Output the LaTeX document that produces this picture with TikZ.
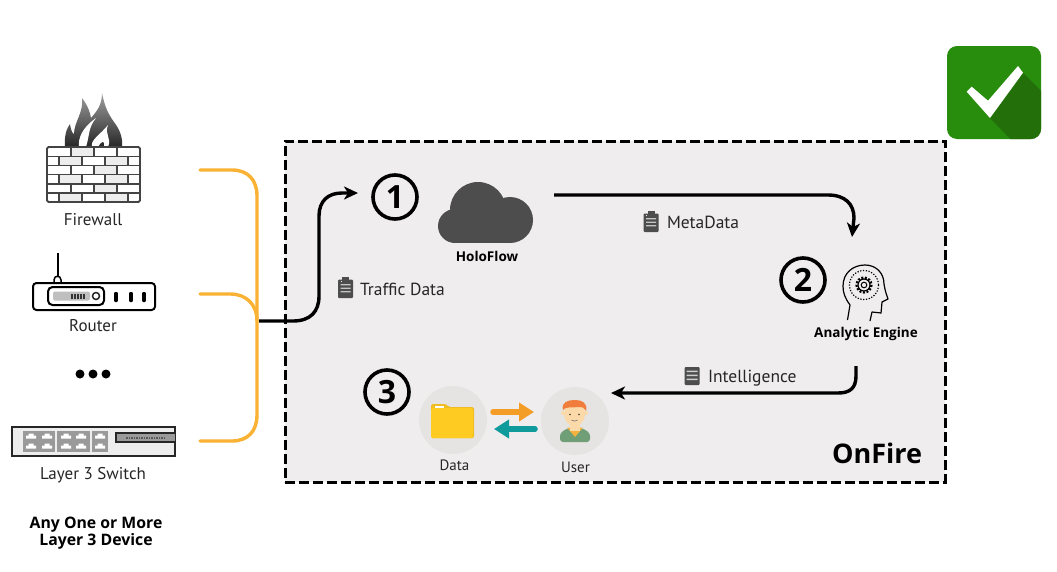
\documentclass[tikz,border=0pt]{standalone}
\usepackage{fontspec}
\setmainfont{PT Sans}
\newfontfamily\heavy{Open Sans}
\usetikzlibrary{arrows.meta,shadings}
\definecolor{boxbg}{HTML}{EFEDEE}
\definecolor{bracket}{HTML}{F9B233}
\definecolor{ink}{HTML}{262626}
\definecolor{icon}{HTML}{4D4D4D}
\definecolor{disc}{HTML}{E5E4E2}
\definecolor{okgreen}{HTML}{288D0C}
\definecolor{okdark}{HTML}{23700B}
\definecolor{brick}{HTML}{EDEDED}
\definecolor{wall}{HTML}{444444}
\definecolor{portgrey}{HTML}{9A9A9A}
\definecolor{folder}{HTML}{FDCB22}
\definecolor{folderback}{HTML}{EFBC24}
\definecolor{orangearrow}{HTML}{F39C26}
\definecolor{tealarrow}{HTML}{0F9A9C}
\definecolor{hair}{HTML}{F07D3C}
\definecolor{skin}{HTML}{FBD9A8}
\definecolor{shirt}{HTML}{6F9E77}
\definecolor{collar}{HTML}{F3B33D}
\tikzset{
  x=1pt,y=-1pt,
  every node/.style={outer sep=0pt},
  orangeline/.style={draw=bracket,line width=3.4pt,line cap=round},
  flowline/.style={draw=black,line width=3.4pt,-{Stealth[length=14pt,width=13pt,inset=4pt]}},
  devlabel/.style={font=\fontsize{17}{20}\selectfont,text=ink,inner sep=0pt},
  boldlabel/.style={font=\heavy\fontsize{13.5}{16}\selectfont\bfseries,text=black,inner sep=0pt},
  smalllabel/.style={font=\fontsize{15}{16}\selectfont,text=ink,inner sep=0pt},
  flowlabel/.style={font=\fontsize{17.5}{20}\selectfont,text=ink,inner sep=0pt,anchor=west},
  stepnum/.style={circle,draw=black,line width=3.6pt,minimum size=44pt,inner sep=0pt,font=\heavy\fontsize{32}{32}\selectfont\bfseries,text=black},
  discnode/.style={circle,fill=disc,minimum size=68pt,inner sep=0pt},
  clipicon/.pic={
    \fill[icon,rounded corners=1pt] (-7.5,-8.5) rectangle (7.5,10);
    \fill[icon] (-3.5,-11) rectangle (3.5,-7);
    \fill[boxbg!75!icon] (-5,-4) rectangle (5,-2.7) (-5,-0.5) rectangle (5,0.8) (-5,3) rectangle (5,4.3);
    \fill[boxbg] (-5,-6.8) rectangle (-4,-6);
  },
  docicon/.pic={
    \fill[icon,rounded corners=1pt] (-7.5,-9) rectangle (7.5,9);
    \fill[boxbg!80!icon] (-5.5,-5.5) rectangle (5.5,-4) (-5.5,-1.5) rectangle (5.5,0) (-5.5,2.5) rectangle (5.5,4);
  }
}
\begin{document}
\begin{tikzpicture}
\useasboundingbox (0,0) rectangle (1057,571);
% OnFire box
\node[draw=black,fill=boxbg,line width=3pt,dash pattern=on 10pt off 4pt,minimum width=660pt,minimum height=341pt,inner sep=0pt,anchor=north west] (onfire) at (285,141) {};
% Green badge
\node[fill=okgreen,rounded corners=10pt,minimum width=94pt,minimum height=93pt,inner sep=0pt,anchor=north west] (badge) at (947,46) {};
\begin{scope}
  \clip[rounded corners=10pt] (947,46) rectangle (1041,139);
  \fill[okdark] (1023,73) -- (1045,95) -- (1045,145) -- (1016,145) -- (990,118) -- cycle;
\end{scope}
\fill[white] (966.7,91.7) -- (971.7,86.7) -- (988,100.7) -- (1018,66) -- (1023,72.7) -- (990,118) -- cycle;
% Firewall
\shade[top color=gray!75,bottom color=black!85] (65,147) .. controls (64,135) and (67,128) .. (70,124)
  .. controls (71,130) and (72,133) .. (74,134) .. controls (74,122) and (84,112) .. (82,98)
  .. controls (88,106) and (90,112) .. (91,118) .. controls (98,110) and (102,104) .. (102,93)
  .. controls (105,108) and (109,115) .. (114,122) .. controls (120,130) and (123,138) .. (122,147) -- cycle;
\fill[white] (79,147) .. controls (78,138) and (82,128) .. (96,118) .. controls (88,128) and (90,134) .. (86,147) -- cycle;
\fill[white] (92,147) .. controls (90,140) and (100,135) .. (108,125) .. controls (104,134) and (112,138) .. (108,147) -- (104,147) .. controls (105,140) and (102,140) .. (98,147) -- cycle;
\node[draw=wall,fill=white,line width=1.6pt,rounded corners=1.5pt,minimum width=93pt,minimum height=55pt,inner sep=0pt,anchor=north west] (fwall) at (47,147) {};
\foreach \r/\a/\b in {0/71/94,2/94/117,4/94/117}{
  \fill[brick] (\a,147.5+\r*9.2) rectangle (\b,147.5+\r*9.2+9.2);
}
\foreach \r/\a/\b/\c/\d in {1/59/82/105/128,3/59/82/105/128,5/59/82/105/128}{
  \fill[brick] (\a,147.5+\r*9.2) rectangle (\b,147.5+\r*9.2+9.2);
  \fill[brick] (\c,147.5+\r*9.2) rectangle (\d,147.5+\r*9.2+9.2);
}
\foreach \r in {1,...,5}{\draw[wall,line width=1.4pt] (47,147+\r*9.2) -- (140,147+\r*9.2);}
\foreach \r in {0,2,4}{\foreach \xx in {71,94,117}{\draw[wall,line width=1.4pt] (\xx,147+\r*9.2) -- (\xx,147+\r*9.2+9.2);}}
\foreach \r in {1,3,5}{\foreach \xx in {59,82,105,128}{\draw[wall,line width=1.4pt] (\xx,147+\r*9.2) -- (\xx,147+\r*9.2+9.2);}}
\draw[wall,line width=1.6pt,rounded corners=1.5pt] (47,147) rectangle (140,202);
\node[devlabel] (fwlabel) at (93,219.5) {Firewall};
% Router
\draw[black,line width=2pt] (57.5,253) -- (57.5,278);
\draw[black,line width=1.5pt,fill=white] (54,288) -- (54,280) .. controls (54,275) and (61,275) .. (61,280) -- (61,288);
\node[draw=black,fill=white,line width=2pt,rounded corners=3.5pt,minimum width=122pt,minimum height=27pt,inner sep=0pt,anchor=north west] (router) at (33,283) {};
\node[draw=black,fill=white,line width=2pt,rounded corners=4.5pt,minimum width=56pt,minimum height=18pt,inner sep=0pt,anchor=north west] (rpanel) at (48,287) {};
\fill[black!25,rounded corners=2pt] (53,291.5) rectangle (90,300.5);
\foreach \xx in {72,75,78,81,84}{\fill[black!80] (\xx-0.8,294) rectangle (\xx+0.8,298.5);}
\draw[black!85,line width=1.5pt,fill=white] (96,296) circle[radius=3.5];
\foreach \xx in {116,131,144}{\fill[black,rounded corners=1pt] (\xx-1.9,292) rectangle (\xx+1.9,302);}
\node[devlabel] (rtlabel) at (93,325.5) {Router};
% Dots
\foreach \xx/\n in {80/d1,93/d2,106/d3}{\node[circle,fill=black,minimum size=9pt,inner sep=0pt] (\n) at (\xx,374) {};}
% Switch
\node[draw=ink,fill=brick,line width=1.4pt,minimum width=163pt,minimum height=29pt,inner sep=0pt,anchor=north west] (switch) at (12,427) {};
\foreach \a/\b in {23/55,57/90,92/108}{\fill[portgrey] (\a,431) rectangle (\b,452);}
\foreach \xx in {31,47,66,81,100}{\foreach \yy in {436,446}{
  \fill[white] (\xx-5,\yy+2.5) -- (\xx-5,\yy-0.5) -- (\xx-2.5,\yy-0.5) -- (\xx-2.5,\yy-2.5) -- (\xx+2.5,\yy-2.5) -- (\xx+2.5,\yy-0.5) -- (\xx+5,\yy-0.5) -- (\xx+5,\yy+2.5) -- cycle;}}
\fill[portgrey] (116,433) rectangle (175,442);
\draw[ink,line width=1.4pt] (175,433) -- (116,433) -- (116,442) -- (175,442);
\foreach \xx in {126,128.5,...,164}{\fill[black!65] (\xx,436.5) rectangle (\xx+1.5,438.5);}
\node[devlabel] (swlabel) at (93,475) {Layer 3 Switch};
\node[font=\heavy\fontsize{15.8}{17.5}\selectfont\bfseries,text=black,inner sep=0pt,align=center] (anyone) at (96,533) {Any One or More\\ Layer 3 Device};
% Bracket
\coordinate (bt) at (200,170);
\coordinate (bm) at (200,294);
\coordinate (bb) at (200,441);
\coordinate (bj) at (257,321);
\draw[orangeline] (bt) -- (232,170) .. controls (248,170) and (257,180) .. (257,196) -- (257,415) .. controls (257,431) and (248,441) .. (232,441) -- (bb);
\draw[orangeline] (bm) -- (230,294) .. controls (246,294) and (257,304) .. (bj);
% Flow arrows
\coordinate (a1s) at (259,321);
\coordinate (a1e) at (358,193);
\coordinate (a2s) at (554,195);
\coordinate (a2e) at (852,237);
\coordinate (a3s) at (856,366);
\coordinate (a3e) at (611,393);
\draw[flowline] (a1s) -- (293,321) .. controls (310,321) and (319,312) .. (319,296) -- (319,216) .. controls (319,201) and (328,193) .. (342,193) -- (a1e);
\draw[flowline] (a2s) -- (828,195) .. controls (845,195) and (854,204) .. (854,218) -- (a2e);
\draw[flowline] (a3s) -- (856,376) .. controls (856,388) and (850,393) .. (838,393) -- (a3e);
% Step numbers
\node[stepnum] (n1) at (395,197) {1};
\node[stepnum] (n2) at (803,280) {2};
\node[stepnum] (n3) at (387,392) {3};
% Cloud
\fill[icon] (455,226) circle[radius=17];
\fill[icon] (478,210) circle[radius=28];
\fill[icon] (510,220) circle[radius=23];
\fill[icon] (455,215) rectangle (510,243);
\node[boldlabel] (holo) at (487,256) {HoloFlow};
% Flow labels
\pic at (345.5,288) {clipicon};
\node[flowlabel] (traffic) at (360,289) {Traffic Data};
\pic at (651,222) {clipicon};
\node[flowlabel] (meta) at (667,222.5) {MetaData};
\pic at (692,376) {docicon};
\node[flowlabel] (intel) at (708,378) {Intelligence};
% Head
\draw[black,line width=1.2pt,line join=round] (847.5,320) -- (850,305) .. controls (845,298) and (843,293) .. (843,286) .. controls (843,273) and (853,265) .. (865,265) .. controls (876,265) and (884,273) .. (884,284) .. controls (885,291) and (887,296) .. (888,299) -- (882,302) -- (881,313) -- (872,312) -- (870,321);
\draw[black,line width=1.2pt,dash pattern=on 1.2pt off 1.6pt] (864,285) circle[radius=14.5];
\draw[black,line width=2.2pt,dash pattern=on 2pt off 1.6pt] (864,285) circle[radius=7.5];
\draw[black,line width=1.2pt] (864,285) circle[radius=6];
\draw[black,line width=1pt] (864,285) circle[radius=2.8];
\node[boldlabel] (engine) at (866,334) {Analytic Engine};
% OnFire label
\node[font=\heavy\fontsize{27}{30}\selectfont\bfseries,text=black,inner sep=0pt] (onfirelabel) at (877,453) {OnFire};
% Data & User
\node[discnode] (datadisc) at (453,420) {};
\node[discnode] (userdisc) at (575,421) {};
\fill[folderback,rounded corners=1.5pt] (431,438) -- (431,404) -- (446,404) -- (449,407) -- (474,407) -- (474,438) -- cycle;
\fill[folder,rounded corners=1.5pt] (431,438) rectangle (473,408);
\fill[white] (435,405.5) rectangle (444,408);
\node[smalllabel] (datalabel) at (454.5,465) {Data};
\node[smalllabel] (userlabel) at (575.5,467.5) {User};
% user icon
\fill[shirt,rounded corners=3pt] (560,442) -- (560,433) -- (568,428) -- (582,428) -- (590,433) -- (590,442) -- cycle;
\fill[collar] (567,427.5) -- (583,427.5) -- (575,437) -- cycle;
\fill[skin] (570,422) rectangle (580,431);
\fill[skin] (574.5,414) ellipse[x radius=10.5,y radius=12];
\fill[skin] (563,413) circle[radius=2];
\fill[skin] (586,413) circle[radius=2];
\fill[hair] (563,410) .. controls (561,402) and (568,400) .. (575,400) .. controls (582,400) and (588,403) .. (586,411) .. controls (584,408) and (582,406) .. (579,407) .. controls (572,408) and (566,406) .. (563,410) -- cycle;
\fill[black!75] (570,414.5) circle[radius=0.9];
\fill[black!75] (579,414.5) circle[radius=0.9];
\draw[black!55,line width=0.6pt] (571.5,420) .. controls (573,421.5) and (576,421.5) .. (577.5,420);
% data/user arrows
\coordinate (ox1) at (493,412);
\coordinate (ox2) at (534,412);
\coordinate (tx1) at (535,429);
\coordinate (tx2) at (494,429);
\draw[orangearrow,line width=5.5pt,line cap=round,-{Triangle[length=15pt,width=18pt]}] (ox1) -- (ox2);
\draw[tealarrow,line width=5.5pt,line cap=round,-{Triangle[length=15pt,width=18pt]}] (tx1) -- (tx2);
\end{tikzpicture}
\end{document}
